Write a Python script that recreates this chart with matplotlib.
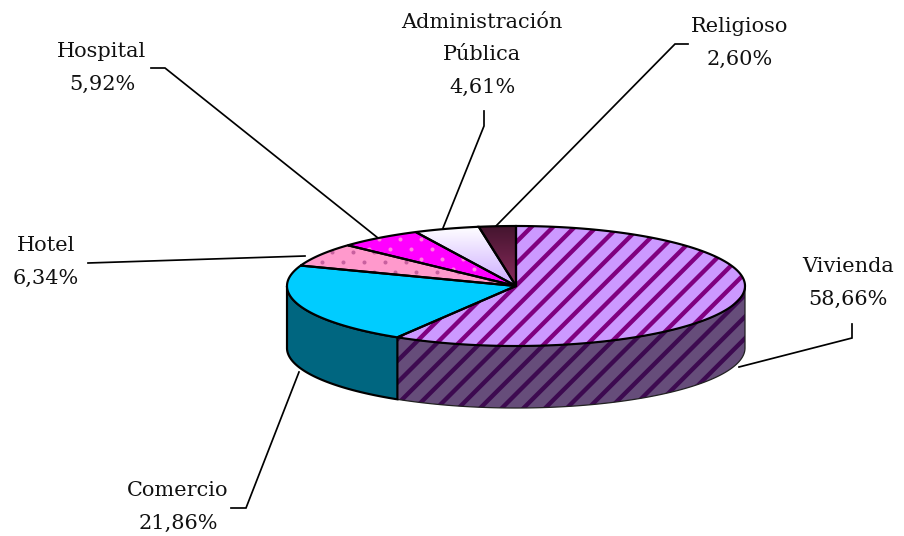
import numpy as np
import matplotlib
matplotlib.use("Agg")
import matplotlib.pyplot as plt
from matplotlib.colors import LinearSegmentedColormap
from matplotlib.patches import Polygon

categories = ["Vivienda", "Comercio", "Hotel", "Hospital", "Administración\nPública", "Religioso"]
values = [58.66, 21.86, 6.34, 5.92, 4.61, 2.60]
value_labels = ["58,66%", "21,86%", "6,34%", "5,92%", "4,61%", "2,60%"]
top_colors = ["#cc99ff", "#00ccff", "#ff99cc", "#ff00ff", "#ffffff", "#4d1a3a"]
side_colors = ["#664d7a", "#006680"]
dot_colors = [None, None, "#c8609f", "#ff80e0", None, None]
gradients = [None, None, None, None, ("#ffffff", "#ccaaff"), ("#45152f", "#8a2a5c")]

# label text centre, then the leader line from the pie outwards
label_xy = [(848, 283), (178, 507), (46, 262), (102, 68), (482, 55), (740, 43)]
leaders = [
    [(739, 367), (852, 338), (852, 324)],
    [(299, 372), (246, 508), (231, 508)],
    [(305, 256), (88, 263)],
    [(378, 238), (165, 68), (151, 68)],
    [(443, 228), (484, 126), (484, 111)],
    [(496, 226), (675, 44), (688, 44)],
]

# geometry of the pie in image pixels
cx, cy = 516, 286
rx, ry = 229, 60
depth = 62

DPI = 130  # hatch tile follows the dpi, this gives the stripe spacing of the original
plt.rcParams["font.family"] = ["DejaVu Serif"]
plt.rcParams["hatch.linewidth"] = 2.4


def rim(a0, a1):
    t = np.radians(np.linspace(a0, a1, max(int(a1 - a0) * 2, 2)))
    return np.column_stack([cx + rx * np.sin(t), cy - ry * np.cos(t)])


def draw_gradient(ax, poly, c0, c1):
    cmap = LinearSegmentedColormap.from_list("g", [c0, c1])
    x0, y0 = poly.min(axis=0)
    x1, y1 = poly.max(axis=0)
    im = ax.imshow(np.linspace(0, 1, 64)[:, None], cmap=cmap, aspect="auto",
                   extent=(x0, x1, y1, y0), zorder=2)
    im.set_clip_path(Polygon(poly, transform=ax.transData))


def draw_dots(ax, poly, color):
    x0, y0 = poly.min(axis=0)
    x1, y1 = poly.max(axis=0)
    px, py = [], []
    for row, y in enumerate(np.arange(y0 - 3, y1, 10)):
        for x in np.arange(x0 + 10.5 * (row % 2), x1, 21):
            px.append(x)
            py.append(y)
    dots = ax.scatter(px, py, s=5, color=color, linewidths=0, zorder=2.5)
    dots.set_clip_path(Polygon(poly, transform=ax.transData))


fig = plt.figure(figsize=(904 / DPI, 536 / DPI), dpi=DPI)
ax = fig.add_axes([0, 0, 1, 1])

edges = np.concatenate([[0], np.cumsum(values)]) / np.sum(values) * 360
edges[-1] = 360

# outer wall, only the front half of the ellipse shows
for i in range(2):
    a0, a1 = max(edges[i], 90), min(edges[i + 1], 270)
    top = rim(a0, a1)
    wall = np.vstack([top, top[::-1] + [0, depth]])
    if i == 0:
        ax.add_patch(Polygon(wall, facecolor=side_colors[i], edgecolor="#3d0a50", lw=0,
                             hatch="//", zorder=1))
        ax.add_patch(Polygon(wall, facecolor="none", edgecolor="#222222", lw=0.7, zorder=1))
    else:
        ax.add_patch(Polygon(wall, facecolor=side_colors[i], edgecolor="black", lw=1.2, zorder=1))

# top face
for i in range(len(values)):
    poly = np.vstack([[cx, cy], rim(edges[i], edges[i + 1])])
    if gradients[i]:
        draw_gradient(ax, poly, *gradients[i])
    elif i == 0:
        ax.add_patch(Polygon(poly, facecolor=top_colors[i], edgecolor="#800080", lw=0,
                             hatch="//", zorder=2))
    else:
        ax.add_patch(Polygon(poly, facecolor=top_colors[i], lw=0, zorder=2))
    if dot_colors[i]:
        draw_dots(ax, poly, dot_colors[i])
    ax.add_patch(Polygon(poly, facecolor="none", edgecolor="black", lw=1.2, zorder=3))

for i in range(len(values)):
    xs, ys = zip(*leaders[i])
    ax.plot(xs, ys, color="black", lw=0.95, zorder=0, solid_joinstyle="miter")
    ax.text(*label_xy[i], categories[i] + "\n" + value_labels[i], ha="center", va="center",
            fontsize=11.6, linespacing=1.88, color="#111111")

ax.set_xlim(0, 904)
ax.set_ylim(536, 0)
ax.axis("off")

fig.savefig("out.png", dpi=DPI)
